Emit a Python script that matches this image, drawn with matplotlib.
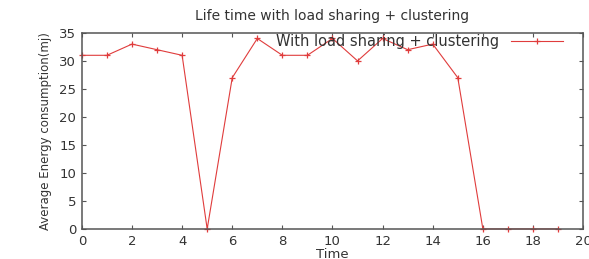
import matplotlib
matplotlib.use("Agg")
import matplotlib.pyplot as plt

# Datos
time = list(range(20))
energy = [31, 31, 33, 32, 31, 0, 27, 34, 31, 31, 34, 30, 34, 32, 33, 27, 0, 0, 0, 0]

LINE_COLOR = "#e03c3c"
TEXT_COLOR = "#333333"

fig = plt.figure(figsize=(5.89, 2.59), dpi=100)
ax = fig.add_axes([0.139, 0.116, 0.851, 0.757])

ax.plot(time, energy, color=LINE_COLOR, lw=0.8, marker="+", ms=4, mew=0.9,
        label="With load sharing + clustering", clip_on=False, zorder=2)

ax.set_xlim(0, 20)
ax.set_ylim(0, 35)
ax.set_xticks(range(0, 21, 2))
ax.set_yticks(range(0, 36, 5))
ax.tick_params(direction="in", top=True, right=True, length=3, width=0.8,
               labelsize=9.5, colors="#555555", labelcolor=TEXT_COLOR, pad=4)
for sp in ax.spines.values():
    sp.set_color("#555555")
    sp.set_linewidth(1.1)
    sp.set_zorder(3)

ax.set_xlabel("Time", fontsize=9.5, color=TEXT_COLOR, labelpad=0)
ax.set_ylabel("Average Energy consumption(mj)", fontsize=8.5, color=TEXT_COLOR, labelpad=5)
ax.set_title("Life time with load sharing + clustering", fontsize=10, color=TEXT_COLOR, pad=9)

ax.legend(loc="upper right", frameon=False, markerfirst=False, fontsize=10.5,
          handlelength=3.6, borderaxespad=0.1, labelcolor=TEXT_COLOR,
          bbox_to_anchor=(0.975, 1.03))

fig.savefig("out.png", dpi=100)
